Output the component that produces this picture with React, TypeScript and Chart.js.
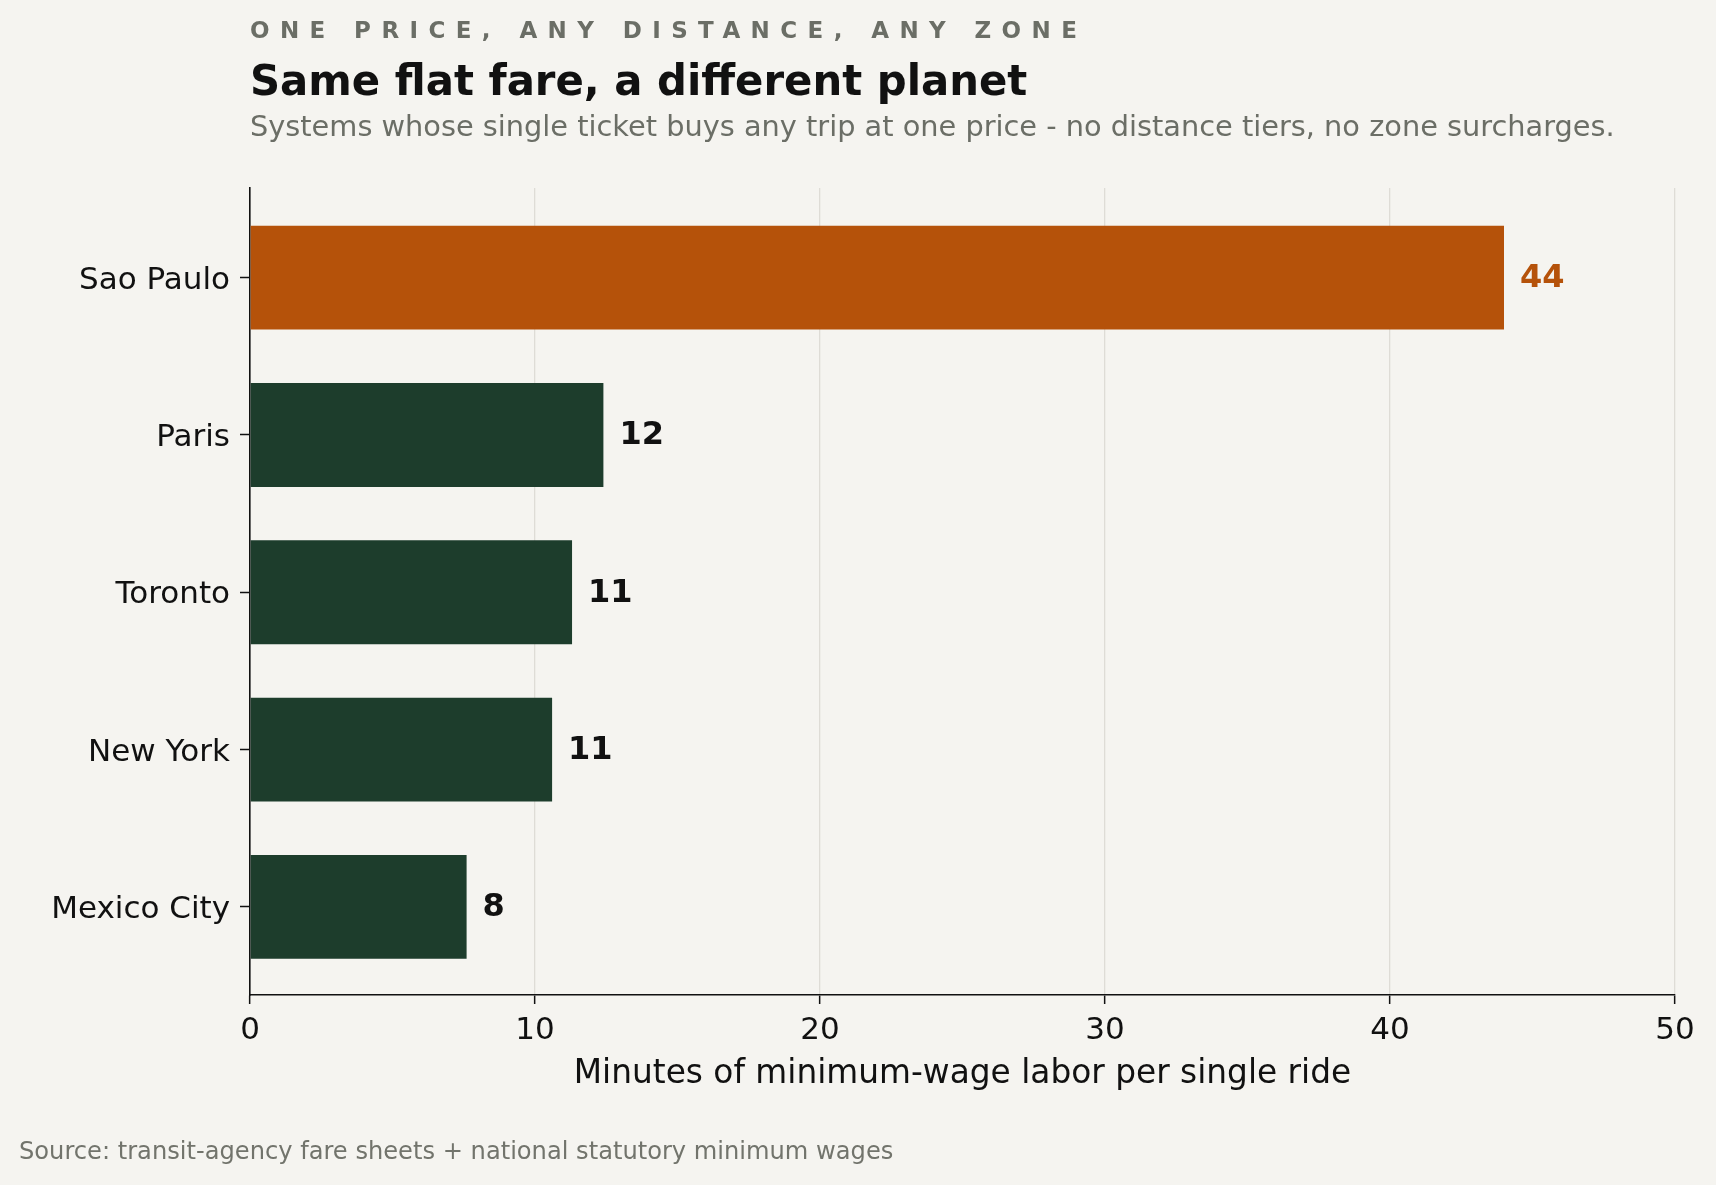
import React, { useEffect, useRef } from 'react';
import { Chart, registerables } from 'chart.js';

Chart.register(...registerables);

const cities = ['Sao Paulo', 'Paris', 'Toronto', 'New York', 'Mexico City'];
const minutes = [44.0, 12.4, 11.3, 10.6, 7.6];
const barColors = ['#b5520a', '#1d3d2c', '#1d3d2c', '#1d3d2c', '#1d3d2c'];
const labelColors = ['#b5520a', '#111111', '#111111', '#111111', '#111111'];
const xTicks = [0, 10, 20, 30, 40, 50];

const kicker = 'ONE PRICE, ANY DISTANCE, ANY ZONE';
const title = 'Same flat fare, a different planet';
const subtitle = 'Systems whose single ticket buys any trip at one price - no distance tiers, no zone surcharges.';
const source = 'Source: transit-agency fare sheets + national statutory minimum wages';
const xLabel = 'Minutes of minimum-wage labor per single ride';

const FONT = '"DejaVu Sans", sans-serif';
const BG = '#f5f4f0';

const textPlugin = {
    id: 'textPlugin',
    afterDatasetsDraw(chart: any) {
        const { ctx } = chart;
        const meta = chart.getDatasetMeta(0);
        ctx.save();
        ctx.font = `bold 32px ${FONT}`;
        ctx.textBaseline = 'middle';
        ctx.textAlign = 'left';
        meta.data.forEach((bar: any, i: number) => {
            ctx.fillStyle = labelColors[i];
            ctx.fillText(String(Math.round(minutes[i])), bar.x + 16, bar.y + 1);
        });
        ctx.restore();
    },
    afterDraw(chart: any) {
        const { ctx, chartArea } = chart;
        const left = chartArea.left;
        ctx.save();
        ctx.textAlign = 'left';
        ctx.textBaseline = 'alphabetic';

        ctx.fillStyle = '#6b6e66';
        ctx.font = `bold 23px ${FONT}`;
        ctx.letterSpacing = '10.4px';
        ctx.fillText(kicker, left, 38);
        ctx.letterSpacing = '0px';

        ctx.fillStyle = '#111111';
        ctx.font = `bold 41.8px ${FONT}`;
        ctx.fillText(title, left, 95);

        ctx.fillStyle = '#6b6e66';
        ctx.font = `28.8px ${FONT}`;
        ctx.fillText(subtitle, left, 136);

        ctx.fillStyle = '#72746c';
        ctx.font = `24.15px ${FONT}`;
        ctx.fillText(source, 19, 1159);
        ctx.restore();
    },
};

const FareChart: React.FC = () => {
    const chartRef = useRef<HTMLCanvasElement | null>(null);

    useEffect(() => {
        document.body.style.margin = '0';
        document.body.style.background = BG;
        if (!chartRef.current) return;
        const ctx = chartRef.current.getContext('2d');
        if (!ctx) return;

        const myChart = new Chart(ctx, {
            type: 'bar',
            data: {
                datasets: [
                    {
                        label: 'Minutes',
                        data: minutes.map((v, i) => ({ x: v, y: i })),
                        backgroundColor: barColors,
                        borderWidth: 0,
                        barPercentage: 0.66,
                        categoryPercentage: 1,
                    },
                ],
            },
            options: {
                indexAxis: 'y',
                responsive: false,
                animation: false,
                devicePixelRatio: 1,
                layout: {
                    padding: { top: 188, right: 41, bottom: 0, left: 0 },
                },
                scales: {
                    x: {
                        type: 'linear',
                        min: 0,
                        max: 50,
                        afterFit: (scale: any) => {
                            scale.height = 190;
                        },
                        afterBuildTicks: (axis: any) => {
                            axis.ticks = xTicks.map((v) => ({ value: v }));
                        },
                        ticks: {
                            color: '#111111',
                            padding: 8,
                            font: { family: FONT, size: 31 },
                        },
                        grid: {
                            color: '#dedcd6',
                            lineWidth: 1.3,
                            tickColor: '#111111',
                            tickLength: 9,
                            tickWidth: 1.5,
                        },
                        border: { display: true, color: '#111111', width: 1.6 },
                        title: {
                            display: true,
                            text: xLabel,
                            color: '#111111',
                            font: { family: FONT, size: 32.8 },
                            padding: { top: 0, bottom: 91 },
                        },
                    },
                    y: {
                        type: 'linear',
                        min: -0.57,
                        max: 4.56,
                        reverse: true,
                        offset: false,
                        afterFit: (scale: any) => {
                            scale.width = 250;
                        },
                        afterBuildTicks: (axis: any) => {
                            axis.ticks = cities.map((_, i) => ({ value: i }));
                        },
                        ticks: {
                            color: '#111111',
                            padding: 10,
                            labelOffset: 3,
                            font: { family: FONT, size: 31 },
                            callback: (value: any) => cities[Number(value)] ?? '',
                        },
                        grid: {
                            offset: false,
                            drawOnChartArea: false,
                            tickColor: '#111111',
                            tickLength: 10,
                            tickWidth: 1.5,
                        },
                        border: { display: true, color: '#111111', width: 1.6 },
                    },
                },
                plugins: {
                    legend: { display: false },
                    tooltip: { enabled: false },
                },
            },
            plugins: [textPlugin],
        });

        return () => {
            myChart.destroy();
        };
    }, []);

    return (
        <div style={{ width: 1716, height: 1185, background: BG }}>
            <canvas ref={chartRef} width={1716} height={1185} style={{ width: 1716, height: 1185 }} />
        </div>
    );
};

export default function App() {
    return <FareChart />;
}
